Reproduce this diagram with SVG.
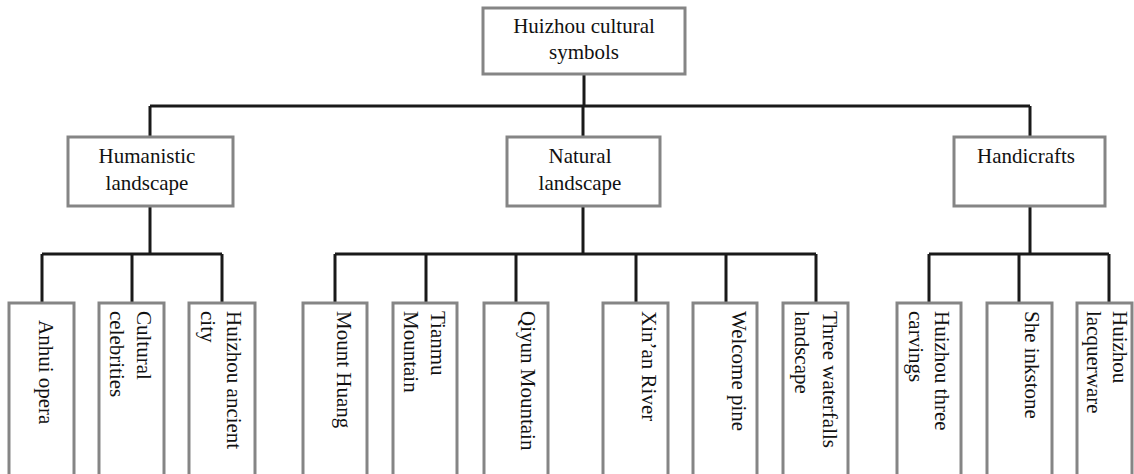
<svg xmlns="http://www.w3.org/2000/svg" width="1134" height="474" viewBox="0 0 1134 474">
<style>
.box{fill:#fff;stroke:#858585;stroke-width:3}
.con{fill:none;stroke:#1a1a1a;stroke-width:3}
.t{font-family:"Liberation Serif","Times New Roman",serif;font-size:21px;fill:#111}
.c{text-anchor:middle}
</style>
<rect x="0" y="0" width="1134" height="474" fill="#fff"/>
<g id="connectors">
<path class="con" d="M584 74V106M150 106H1030M150 106V137M583 106V137M1030 106V137"/>
<path class="con" d="M150 206V254M42 254H222M42 254V303M132 254V303M222 254V303"/>
<path class="con" d="M583 206V254M335 254H816M335 254V303M426 254V303M516 254V303M636 254V303M726 254V303M816 254V303"/>
<path class="con" d="M1030 206V254M929 254H1109M929 254V303M1019 254V303M1109 254V303"/>
</g>
<g id="root">
<rect class="box" x="483" y="8" width="202" height="66"/>
<text class="t c" x="584" y="33">Huizhou cultural</text>
<text class="t c" x="584" y="59">symbols</text>
</g>
<g id="humanistic">
<rect class="box" x="68" y="137" width="165" height="69"/>
<text class="t c" x="147" y="163">Humanistic</text>
<text class="t c" x="147" y="190">landscape</text>
</g>
<g id="natural">
<rect class="box" x="507" y="137" width="153" height="69"/>
<text class="t c" x="580" y="163">Natural</text>
<text class="t c" x="580" y="190">landscape</text>
</g>
<g id="handicrafts">
<rect class="box" x="954" y="137" width="151" height="69"/>
<text class="t c" x="1026" y="163">Handicrafts</text>
</g>
<g id="anhui-opera">
<rect class="box" x="9" y="303" width="65" height="190"/>
<text class="t" transform="translate(39,320) rotate(90)">Anhui opera</text>
</g>
<g id="cultural-celebrities">
<rect class="box" x="99" y="303" width="65" height="190"/>
<text class="t" transform="translate(137,311) rotate(90)">Cultural</text>
<text class="t" transform="translate(110,311) rotate(90)">celebrities</text>
</g>
<g id="huizhou-ancient-city">
<rect class="box" x="189" y="303" width="66" height="190"/>
<text class="t" transform="translate(227,311) rotate(90)">Huizhou ancient</text>
<text class="t" transform="translate(201,311) rotate(90)">city</text>
</g>
<g id="mount-huang">
<rect class="box" x="303" y="303" width="64" height="190"/>
<text class="t" transform="translate(337,311) rotate(90)">Mount Huang</text>
</g>
<g id="tianmu-mountain">
<rect class="box" x="393" y="303" width="64" height="190"/>
<text class="t" transform="translate(431,311) rotate(90)">Tianmu</text>
<text class="t" transform="translate(404,311) rotate(90)">Mountain</text>
</g>
<g id="qiyun-mountain">
<rect class="box" x="484" y="303" width="64" height="190"/>
<text class="t" transform="translate(521,311) rotate(90)">Qiyun Mountain</text>
</g>
<g id="xinan-river">
<rect class="box" x="603" y="303" width="65" height="190"/>
<text class="t" transform="translate(642,311) rotate(90)">Xin’an River</text>
</g>
<g id="welcome-pine">
<rect class="box" x="693" y="303" width="64" height="190"/>
<text class="t" transform="translate(732,311) rotate(90)">Welcome pine</text>
</g>
<g id="three-waterfalls">
<rect class="box" x="783" y="303" width="65" height="190"/>
<text class="t" transform="translate(823,311) rotate(90)">Three waterfalls</text>
<text class="t" transform="translate(795,311) rotate(90)">landscape</text>
</g>
<g id="huizhou-three-carvings">
<rect class="box" x="897" y="303" width="64" height="190"/>
<text class="t" transform="translate(935,311) rotate(90)">Huizhou three</text>
<text class="t" transform="translate(909,311) rotate(90)">carvings</text>
</g>
<g id="she-inkstone">
<rect class="box" x="987" y="303" width="65" height="190"/>
<text class="t" transform="translate(1025,311) rotate(90)">She inkstone</text>
</g>
<g id="huizhou-lacquerware">
<rect class="box" x="1077" y="303" width="55" height="190"/>
<text class="t" transform="translate(1113,311) rotate(90)">Huizhou</text>
<text class="t" transform="translate(1087,311) rotate(90)">lacquerware</text>
</g>
</svg>
